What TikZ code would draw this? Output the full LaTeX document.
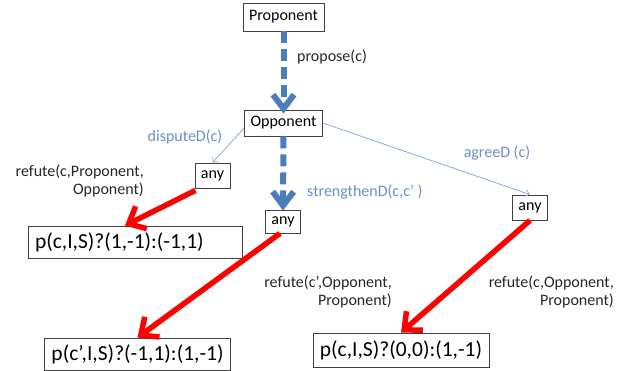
\documentclass[tikz,border=0pt]{standalone}
\usepackage{fontspec}
\setmainfont{Carlito}
\usetikzlibrary{arrows.meta,calc}
\definecolor{dblue}{HTML}{4A7EBB}
\definecolor{lblue}{HTML}{6A8FC6}
\definecolor{tblue}{HTML}{8DA9D6}
\definecolor{bred}{HTML}{FF0000}
\begin{document}
\begin{tikzpicture}[x=1pt,y=-1pt,
  font=\fontsize{16}{17.5}\selectfont,
  box/.style={draw=black!75, line width=0.8pt, inner xsep=6pt, inner ysep=0pt, minimum height=26pt, text=black},
  bigbox/.style={draw=black!75, line width=0.8pt, inner xsep=7pt, inner ysep=0pt, minimum height=32pt, font=\fontsize{21.5}{24}\selectfont},
  lbl/.style={inner sep=0pt, text=black!85},
  blbl/.style={inner sep=0pt, text=lblue},
  dasharrow/.style={draw=dblue, line width=6pt, dash pattern=on 12pt off 6pt, -{Straight Barb[length=14pt,width=21pt]}},
  thinarrow/.style={draw=tblue, line width=0.8pt, -{Straight Barb[length=4pt,width=7pt]}},
  redarrow/.style={draw=bred, line width=5.5pt, -{Straight Barb[length=14pt,width=25pt]}}
]
\useasboundingbox (0,0) rectangle (632,371);
% nodes
\node[box, minimum height=28pt] (prop) at (283.5,17) {Proponent};
\node[box] (opp) at (283.5,123) {Opponent};
\node[box, minimum height=25pt] (any1) at (212.5,175.5) {any};
\node[box, minimum height=23pt] (any2) at (283,221.5) {any};
\node[box, minimum height=25pt] (any3) at (530,207.5) {any};
\node[bigbox, text width=200pt, align=left] (p1) at (135,242) {p(c,I,S)?(1,-1):(-1,1)};
\node[bigbox] (p2) at (137.5,354) {p(c’,I,S)?(-1,1):(1,-1)};
\node[bigbox, minimum height=34pt] (p3) at (401,350) {p(c,I,S)?(0,0):(1,-1)};
% labels
\node[lbl, anchor=west] (lprop) at (297,57) {propose(c)};
\node[blbl] (ldisp) at (185,137) {disputeD(c)};
\node[blbl, anchor=west] (lstr) at (307,192) {strengthenD(c,c’ )};
\node[blbl] (lagr) at (497,153) {agreeD (c)};
\node[lbl, align=right, anchor=east] (lr1) at (144,181) {refute(c,Proponent,\\Opponent)};
\node[lbl, align=right, anchor=east] (lr2) at (392,292) {refute(c’,Opponent,\\Proponent)};
\node[lbl, align=right, anchor=east] (lr3) at (614,292) {refute(c,Opponent,\\Proponent)};
% connector endpoints
\coordinate (oppw) at ([yshift=-5pt]opp.west);
\coordinate (a1s) at ([xshift=-17pt,yshift=-2pt]any1.south);
\coordinate (p1t) at ([xshift=-10pt]p1.north);
\coordinate (a2s) at ([xshift=-3pt]any2.south);
% connectors
\draw[dasharrow] (prop.south) -- ([yshift=-4pt]opp.north);
\draw[dasharrow] (opp.south) -- ([yshift=-1pt]any2.north);
\draw[thinarrow] (oppw) -- (any1.north);
\draw[thinarrow] (opp.east) -- (any3.north);
\draw[redarrow] (a1s) -- (p1t);
\draw[redarrow] (a2s) -- (p2.north);
\draw[redarrow] (any3.south) -- (p3.north);
\end{tikzpicture}
\end{document}
